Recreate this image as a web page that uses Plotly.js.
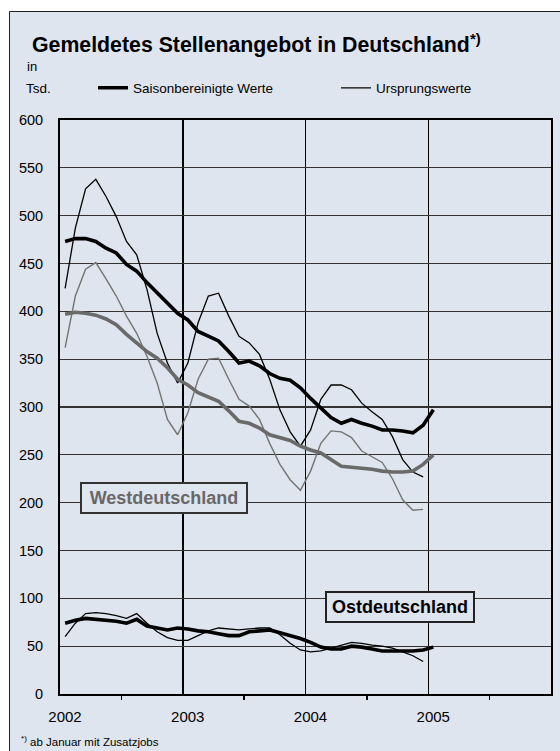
<!DOCTYPE html>
<html>
<head>
<meta charset="utf-8">
<script src="https://cdn.plot.ly/plotly-3.0.1.min.js"></script>
<style>
html,body{margin:0;padding:0;background:#ffffff;overflow:hidden;}
#chart{width:560px;height:751px;}
</style>
</head>
<body>
<div id="chart"></div>
<script>
// Monthly values, thousands (Jan 2002 .. Jan 2005)
const months = [
 "2002-01","2002-02","2002-03","2002-04","2002-05","2002-06","2002-07","2002-08","2002-09","2002-10","2002-11","2002-12",
 "2003-01","2003-02","2003-03","2003-04","2003-05","2003-06","2003-07","2003-08","2003-09","2003-10","2003-11","2003-12",
 "2004-01","2004-02","2004-03","2004-04","2004-05","2004-06","2004-07","2004-08","2004-09","2004-10","2004-11","2004-12",
 "2005-01"];

// Deutschland
const deSaison = [473,476,476,473,466,461,449,442,430,419,409,398, 391,379,374,369,358,346,348,343,335,330,328,320, 309,299,289,283,287,283,280,276,276,275,273,281, 297];
const deUrsprung = [424,487,528,538,520,499,473,459,423,377,346,325, 346,388,416,419,395,374,367,355,329,297,274,259, 276,308,323,323,318,304,295,287,269,245,232,227];

// Westdeutschland
const westSaison = [397,399,398,396,392,386,376,367,358,351,341,329, 323,315,311,306,296,285,283,278,271,268,265,259, 255,252,245,238,237,236,235,233,232,232,233,240, 250];
const westUrsprung = [362,416,444,451,434,416,395,377,353,325,287,271, 294,329,350,351,329,308,301,287,262,240,224,213, 233,262,275,274,268,254,248,242,225,203,192,193];

// Ostdeutschland
const ostSaison = [74,77,79,78,77,76,74,78,71,69,67,69, 68,66,65,63,61,61,65,66,67,64,61,58, 54,49,47,47,50,49,47,45,45,45,45,46, 49];
const ostUrsprung = [60,74,84,85,84,82,79,84,74,65,59,56, 56,61,66,69,68,67,68,69,69,62,53,46, 44,45,48,51,54,53,51,50,48,44,40,34];

const yearTicks = [2002, 2003, 2004, 2005];
const yearLabels = ["2002", "2003", "2004", "2005"];

// month -> decimal year (middle of the month)
function mx(s){ const p = s.split("-"); return +p[0] + (+p[1] - 0.5) / 12; }
const xs = months.map(mx);

const FONT = "Liberation Sans, Arial, Helvetica, sans-serif";
const BG = "#dfe5ee";
const L = 60, T = 120, PW = 491, PH = 574;
function px(x){ return (x - L) / PW; }
function py(y){ return (T + PH - y) / PH; }

function line(y, color, width, name, show, rank, lw){
  const t = {x: xs.slice(0, y.length), y: y, type: "scatter", mode: "lines",
    line: {color: color, width: width, shape: "linear"}, name: name || "",
    showlegend: !!show, legendrank: rank || 1000, hoverinfo: "skip"};
  if (lw) t.legendwidth = lw;
  return t;
}

const traces = [
  line(westUrsprung, "#747474", 1.4),
  line(deUrsprung, "#000000", 1.3, "Ursprungswerte", true, 2, 110),
  line(ostUrsprung, "#000000", 1.3),
  line(westSaison, "#6a6a6a", 3.6),
  line(deSaison, "#000000", 3.6, "Saisonbereinigte Werte", true, 1, 198),
  line(ostSaison, "#000000", 3.6)
];

const layout = {
  width: 560, height: 751,
  margin: {l: L, r: 9, t: T, b: 57, pad: 0},
  paper_bgcolor: "#ffffff",
  plot_bgcolor: BG,
  font: {family: FONT, color: "#000000"},
  title: {
    text: "<b>Gemeldetes Stellenangebot in Deutschland</b><b><sup>*)</sup></b>",
    font: {family: FONT, size: 21.3, color: "#000000"},
    xref: "container", yref: "container",
    x: 32/560, xanchor: "left", y: 1 - 45/751, yanchor: "middle"
  },
  showlegend: true,
  legend: {
    orientation: "h", x: px(93), xanchor: "left", y: py(88), yanchor: "middle",
    bgcolor: "rgba(0,0,0,0)", borderwidth: 0,
    font: {family: FONT, size: 13.5, color: "#000000"},
    entrywidthmode: "pixels", itemwidth: 30, traceorder: "normal"
  },
  xaxis: {
    range: [2002, 2006], tickmode: "array", tickvals: yearTicks, ticktext: yearLabels,
    ticks: "", showgrid: true, gridcolor: "#000000", gridwidth: 1.5,
    zeroline: false, showline: true, linecolor: "#000000", linewidth: 2, mirror: true,
    tickfont: {family: FONT, size: 15, color: "#000000"},
    ticklabelshift: 5, ticklabelstandoff: 8,
    minor: {tickmode: "linear", tick0: 2002.5, dtick: 1, ticks: "outside", ticklen: 4,
            tickwidth: 1.5, tickcolor: "#000000", showgrid: false},
    fixedrange: true
  },
  yaxis: {
    range: [0, 600], tickmode: "linear", tick0: 0, dtick: 50,
    ticks: "", showgrid: true, gridcolor: "#333333", gridwidth: 1.3,
    zeroline: false, showline: true, linecolor: "#000000", linewidth: 2, mirror: true,
    tickfont: {family: FONT, size: 14.5, color: "#000000"},
    ticklabelstandoff: 12, fixedrange: true
  },
  shapes: [
    {type: "rect", xref: "paper", yref: "paper", layer: "below",
     x0: px(9.5), x1: px(620), y0: py(820), y1: py(11.5),
     fillcolor: BG, line: {color: "#222222", width: 1}}
  ],
  annotations: [
    {xref: "paper", yref: "paper", x: px(31.5), y: py(67), text: "in", showarrow: false,
     font: {family: FONT, size: 13, color: "#000"}, xanchor: "center", yanchor: "middle"},
    {xref: "paper", yref: "paper", x: px(38), y: py(88), text: "Tsd.", showarrow: false,
     font: {family: FONT, size: 13.5, color: "#000"}, xanchor: "center", yanchor: "middle"},
    {xref: "paper", yref: "paper", x: px(19), y: py(741), text: "<sup>*)</sup> ab Januar mit Zusatzjobs", showarrow: false,
     font: {family: FONT, size: 11.5, color: "#000"}, xanchor: "left", yanchor: "middle"},
    {xref: "x", yref: "y", x: 2002.847, y: 205, text: "<b>Westdeutschland</b>", showarrow: false,
     font: {family: FONT, size: 18, color: "#686868"}, xanchor: "center", yanchor: "middle",
     bgcolor: BG, bordercolor: "#333333", borderwidth: 2, borderpad: 1, width: 162, height: 26},
    {xref: "x", yref: "y", x: 2004.77, y: 91.3, text: "<b>Ostdeutschland</b>", showarrow: false,
     font: {family: FONT, size: 18, color: "#000000"}, xanchor: "center", yanchor: "middle",
     bgcolor: BG, bordercolor: "#222222", borderwidth: 2, borderpad: 1, width: 144, height: 26}
  ]
};

Plotly.newPlot("chart", traces, layout, {displayModeBar: false, staticPlot: true});
</script>
</body>
</html>
